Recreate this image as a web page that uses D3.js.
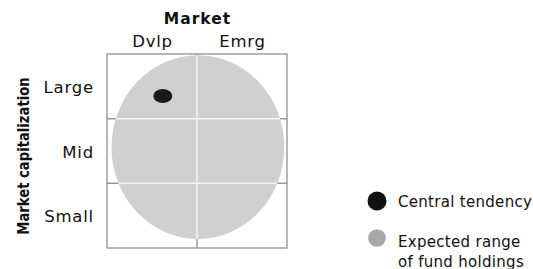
<!DOCTYPE html>
<html>
<head>
<meta charset="utf-8">
<script src="https://cdn.jsdelivr.net/npm/d3@7"></script>
<style>
  html, body { margin: 0; padding: 0; background: #fff; }
  svg { display: block; }
  text { font-family: "DejaVu Sans", sans-serif; fill: #111; }
</style>
</head>
<body>
<div id="chart"></div>
<script>
"use strict";

// ---------------------------------------------------------------------------
// Data
// ---------------------------------------------------------------------------

const markets = ["Dvlp", "Emrg"];
const caps = ["Large", "Mid", "Small"];

// position in grid units: x across markets (0..2), y down caps (0..3)
const centralTendency = { x: 0.62, y: 0.65 };
const expectedRange = { cx: 1.01, cy: 1.44, rx: 0.96, ry: 1.42 };

const legendItems = [
  { label: ["Central tendency"], color: "#111", r: 9.5, dy: 0 },
  { label: ["Expected range", "of fund holdings"], color: "#a8a8a8", r: 8.8, dy: 37 },
];

// ---------------------------------------------------------------------------
// Layout
// ---------------------------------------------------------------------------

const width = 533;
const height = 269;
const box = { left: 107, right: 287, top: 54, bottom: 248 };

const x = d3.scaleLinear().domain([0, markets.length]).range([box.left, box.right]);
const y = d3.scaleLinear().domain([0, caps.length]).range([box.top, box.bottom]);
const xBand = d3.scaleBand().domain(markets).range([box.left, box.right]);
const yBand = d3.scaleBand().domain(caps).range([box.top, box.bottom]);

const svg = d3.select("#chart")
  .append("svg")
  .attr("width", width)
  .attr("height", height);

function drawGrid(g, color) {
  d3.range(1, markets.length).forEach((i) => {
    g.append("line")
      .attr("x1", x(i)).attr("x2", x(i))
      .attr("y1", box.top).attr("y2", box.bottom)
      .attr("stroke", color).attr("stroke-width", 1.5);
  });
  d3.range(1, caps.length).forEach((i) => {
    g.append("line")
      .attr("x1", box.left).attr("x2", box.right)
      .attr("y1", y(i)).attr("y2", y(i))
      .attr("stroke", color).attr("stroke-width", 1.5);
  });
}

// grid (gray, visible outside the ellipse)
drawGrid(svg.append("g"), "#999");

// expected range ellipse
const ell = {
  cx: x(expectedRange.cx),
  cy: y(expectedRange.cy),
  rx: x(expectedRange.rx) - x(0),
  ry: y(expectedRange.ry) - y(0),
};

svg.append("clipPath").attr("id", "ellClip")
  .append("ellipse")
  .attr("cx", ell.cx).attr("cy", ell.cy)
  .attr("rx", ell.rx).attr("ry", ell.ry);

svg.append("ellipse")
  .attr("cx", ell.cx).attr("cy", ell.cy)
  .attr("rx", ell.rx).attr("ry", ell.ry)
  .attr("fill", "#d0d0d0");

// white grid lines inside the ellipse
drawGrid(svg.append("g").attr("clip-path", "url(#ellClip)"), "#f4f4f4");

// outer box
svg.append("rect")
  .attr("x", box.left).attr("y", box.top)
  .attr("width", box.right - box.left).attr("height", box.bottom - box.top)
  .attr("fill", "none").attr("stroke", "#888").attr("stroke-width", 1.2);

// central tendency
svg.append("ellipse")
  .attr("cx", x(centralTendency.x)).attr("cy", y(centralTendency.y))
  .attr("rx", 9.5).attr("ry", 7)
  .attr("fill", "#1a1a1a");

// ---------------------------------------------------------------------------
// Labels
// ---------------------------------------------------------------------------

svg.append("text")
  .attr("x", x(1) + 0.5).attr("y", 24)
  .attr("text-anchor", "middle")
  .attr("font-size", "15.5px").attr("font-weight", "bold")
  .attr("letter-spacing", "1px")
  .text("Market");

svg.selectAll(".mkt")
  .data(markets)
  .join("text")
  .attr("class", "mkt")
  .attr("x", (d) => xBand(d) + xBand.bandwidth() / 2 + 0.5)
  .attr("y", 46.5)
  .attr("text-anchor", "middle")
  .attr("font-size", "16.5px")
  .attr("letter-spacing", "0.8px")
  .text((d) => d);

svg.selectAll(".cap")
  .data(caps)
  .join("text")
  .attr("class", "cap")
  .attr("x", 94)
  .attr("y", (d) => yBand(d) + yBand.bandwidth() / 2 + 6.5)
  .attr("text-anchor", "end")
  .attr("font-size", "16.5px")
  .attr("letter-spacing", "0.8px")
  .text((d) => d);

// condensed bold title, squeezed along its length
svg.append("text")
  .attr("transform", `translate(29,156) rotate(-90) scale(0.85,1)`)
  .attr("text-anchor", "middle")
  .attr("font-family", "'DejaVu Sans Condensed', sans-serif")
  .attr("font-size", "15.5px").attr("font-weight", "bold")
  .text("Market capitalization");

// ---------------------------------------------------------------------------
// Legend
// ---------------------------------------------------------------------------

const legend = svg.append("g").attr("transform", "translate(377,201)");
legendItems.forEach((item, i) => {
  const g = legend.append("g").attr("transform", `translate(0,${item.dy})`);
  g.append("circle").attr("r", item.r).attr("fill", item.color);
  item.label.forEach((line, j) => {
    g.append("text")
      .attr("x", 21).attr("y", (i === 0 ? 6 : 8.5) + j * 20)
      .attr("font-size", "15px")
      .attr("letter-spacing", "0.3px")
      .text(line);
  });
});
</script>
</body>
</html>
